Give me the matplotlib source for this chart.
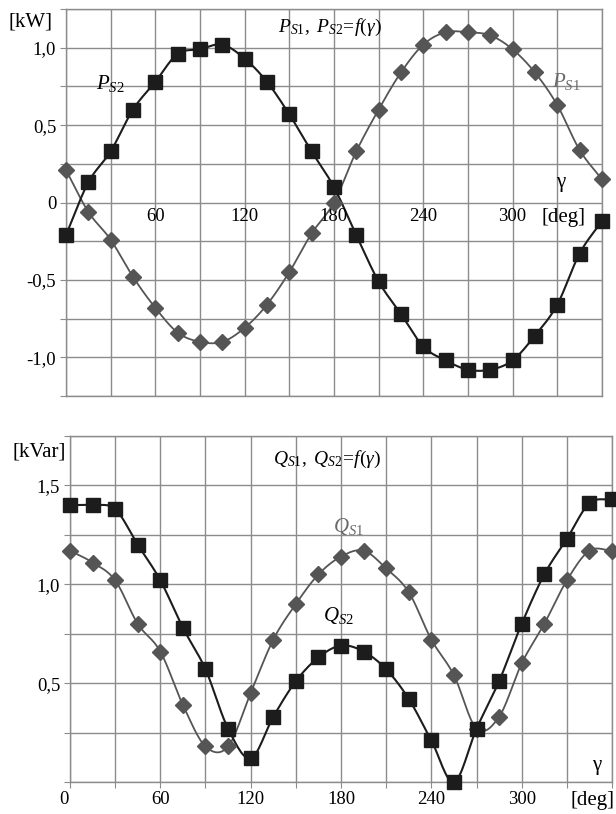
import matplotlib
matplotlib.use("Agg")
import matplotlib.pyplot as plt
import matplotlib.transforms as mtransforms
import numpy as np

plt.rcParams["font.family"] = ["Liberation Serif", "DejaVu Serif"]
plt.rcParams["mathtext.fontset"] = "custom"
plt.rcParams["mathtext.rm"] = "Liberation Serif"
plt.rcParams["mathtext.it"] = "Liberation Serif:italic"
plt.rcParams["mathtext.bf"] = "Liberation Serif:bold"

gamma = list(range(0, 361, 15))

# active power [kW]
p_s1 = [0.21, -0.06, -0.24, -0.48, -0.68, -0.84, -0.90, -0.90, -0.81, -0.66,
        -0.45, -0.20, 0.00, 0.33, 0.60, 0.84, 1.02, 1.10, 1.10, 1.08,
        0.99, 0.84, 0.63, 0.34, 0.15]
p_s2 = [-0.21, 0.13, 0.33, 0.60, 0.78, 0.96, 0.99, 1.02, 0.93, 0.78,
        0.57, 0.33, 0.10, -0.21, -0.51, -0.72, -0.93, -1.02, -1.08, -1.08,
        -1.02, -0.86, -0.66, -0.33, -0.12]

# reactive power [kVar]
q_s1 = [1.17, 1.11, 1.02, 0.80, 0.66, 0.39, 0.18, 0.18, 0.45, 0.72,
        0.90, 1.05, 1.14, 1.17, 1.08, 0.96, 0.72, 0.54, 0.27, 0.33,
        0.60, 0.80, 1.02, 1.17, 1.17]
q_s2 = [1.40, 1.40, 1.38, 1.20, 1.02, 0.78, 0.57, 0.27, 0.12, 0.33,
        0.51, 0.63, 0.69, 0.66, 0.57, 0.42, 0.21, 0.00, 0.27, 0.51,
        0.80, 1.05, 1.23, 1.41, 1.43]

x_labels = [60, 120, 180, 240, 300]

DARK = "#1c1c1c"
GREY = "#555555"
GRID = "#8c8c8c"


def smooth(x, y, n=16):
    # Catmull-Rom curve through the points, like a spreadsheet "smoothed line"
    x = np.asarray(x, float)
    y = np.asarray(y, float)
    px = np.concatenate([[2 * x[0] - x[1]], x, [2 * x[-1] - x[-2]]])
    py = np.concatenate([[2 * y[0] - y[1]], y, [2 * y[-1] - y[-2]]])
    t = np.linspace(0, 1, n, endpoint=False)
    xs, ys = [], []
    for i in range(1, len(px) - 2):
        for arr, out in ((px, xs), (py, ys)):
            p0, p1, p2, p3 = arr[i - 1], arr[i], arr[i + 1], arr[i + 2]
            out.append(0.5 * (2 * p1 + (-p0 + p2) * t
                              + (2 * p0 - 5 * p1 + 4 * p2 - p3) * t ** 2
                              + (-p0 + 3 * p1 - 3 * p2 + p3) * t ** 3))
    xs.append([x[-1]])
    ys.append([y[-1]])
    return np.concatenate(xs), np.concatenate(ys)


def draw_series(ax, y, color, marker, ms, lw):
    sx, sy = smooth(gamma, y)
    ax.plot(sx, sy, color=color, lw=lw, zorder=3, clip_on=False)
    ax.plot(gamma, y, linestyle="none", marker=marker, ms=ms, color=color,
            markeredgecolor=color, zorder=4, clip_on=False)


def style_axes(ax, ylo, yhi):
    ax.set_xlim(0, 360)
    ax.set_ylim(ylo, yhi)
    ax.set_xticks(np.arange(0, 361, 30))
    ax.set_yticks(np.arange(ylo, yhi + 0.001, 0.25))
    ax.grid(True, color=GRID, lw=1.0)
    ax.set_axisbelow(True)
    for s in ax.spines.values():
        s.set_color(GRID)
        s.set_linewidth(1.0)
    ax.tick_params(length=4, color=GRID, labelsize=13.5, pad=3)


fig = plt.figure(figsize=(6.16, 8.14), dpi=100)

# ---- active power ----
ax1 = fig.add_axes([0.1071, 0.5135, 0.870, 0.4754])
style_axes(ax1, -1.25, 1.25)
ax1.set_xticklabels([])
ax1.tick_params(axis="x", length=0)
ax1.set_yticklabels(["" if abs(v * 2 - round(v * 2)) > 1e-6 else
                     ("0" if abs(v) < 1e-6 else f"{v:.1f}".replace(".", ","))
                     for v in np.arange(-1.25, 1.2501, 0.25)])
draw_series(ax1, p_s1, GREY, "D", 7.8, 1.3)
draw_series(ax1, p_s2, DARK, "s", 10.5, 1.5)
for v in x_labels:
    ax1.text(v, -0.035, str(v), ha="center", va="top", fontsize=13.5)
ax1.text(334, -0.035, "[deg]", ha="center", va="top", fontsize=15)
ax1.text(332, 0.13, "γ", ha="center", va="center", fontsize=15)
ax1.text(177, 1.13, r"$P_{S1},\ P_{S2}\!=\!f(\gamma)$", ha="center",
         va="center", fontsize=14)
ax1.text(30, 0.77, r"$P_{S2}$", ha="center", va="center", fontsize=15)
ax1.text(336, 0.78, r"$P_{S1}$", ha="center", va="center", fontsize=15,
         color="#6a6a6a")
fig.text(0.050, 0.973, "[kW]", ha="center", va="center", fontsize=15)

# ---- reactive power ----
ax2 = fig.add_axes([0.1136, 0.0393, 0.880, 0.4251])
style_axes(ax2, 0.0, 1.75)
ax2.set_xticklabels([])
ax2.set_yticklabels(["" if (abs(v * 2 - round(v * 2)) > 1e-6 or v < 0.1) else
                     f"{v:.1f}".replace(".", ",")
                     for v in np.arange(0, 1.7501, 0.25)])
draw_series(ax2, q_s1, GREY, "D", 7.8, 1.3)
draw_series(ax2, q_s2, DARK, "s", 10.5, 1.5)
trans = mtransforms.blended_transform_factory(ax2.transData, ax2.transAxes)
for v in [0] + x_labels:
    ax2.text(v - (4 if v == 0 else 0), -0.025, str(v), ha="center", va="top",
             fontsize=13.5, transform=trans)
ax2.text(347, -0.025, "[deg]", ha="center", va="top", fontsize=15,
         transform=trans)
ax2.text(350, 0.086, "γ", ha="center", va="center", fontsize=15)
ax2.text(171, 1.63, r"$Q_{S1},\ Q_{S2}\!=\!f(\gamma)$", ha="center",
         va="center", fontsize=14)
ax2.text(185, 1.29, r"$Q_{S1}$", ha="center", va="center", fontsize=15,
         color="#6a6a6a")
ax2.text(178, 0.84, r"$Q_{S2}$", ha="center", va="center", fontsize=15)
fig.text(0.063, 0.445, "[kVar]", ha="center", va="center", fontsize=15)

fig.savefig("out.png", dpi=100)
